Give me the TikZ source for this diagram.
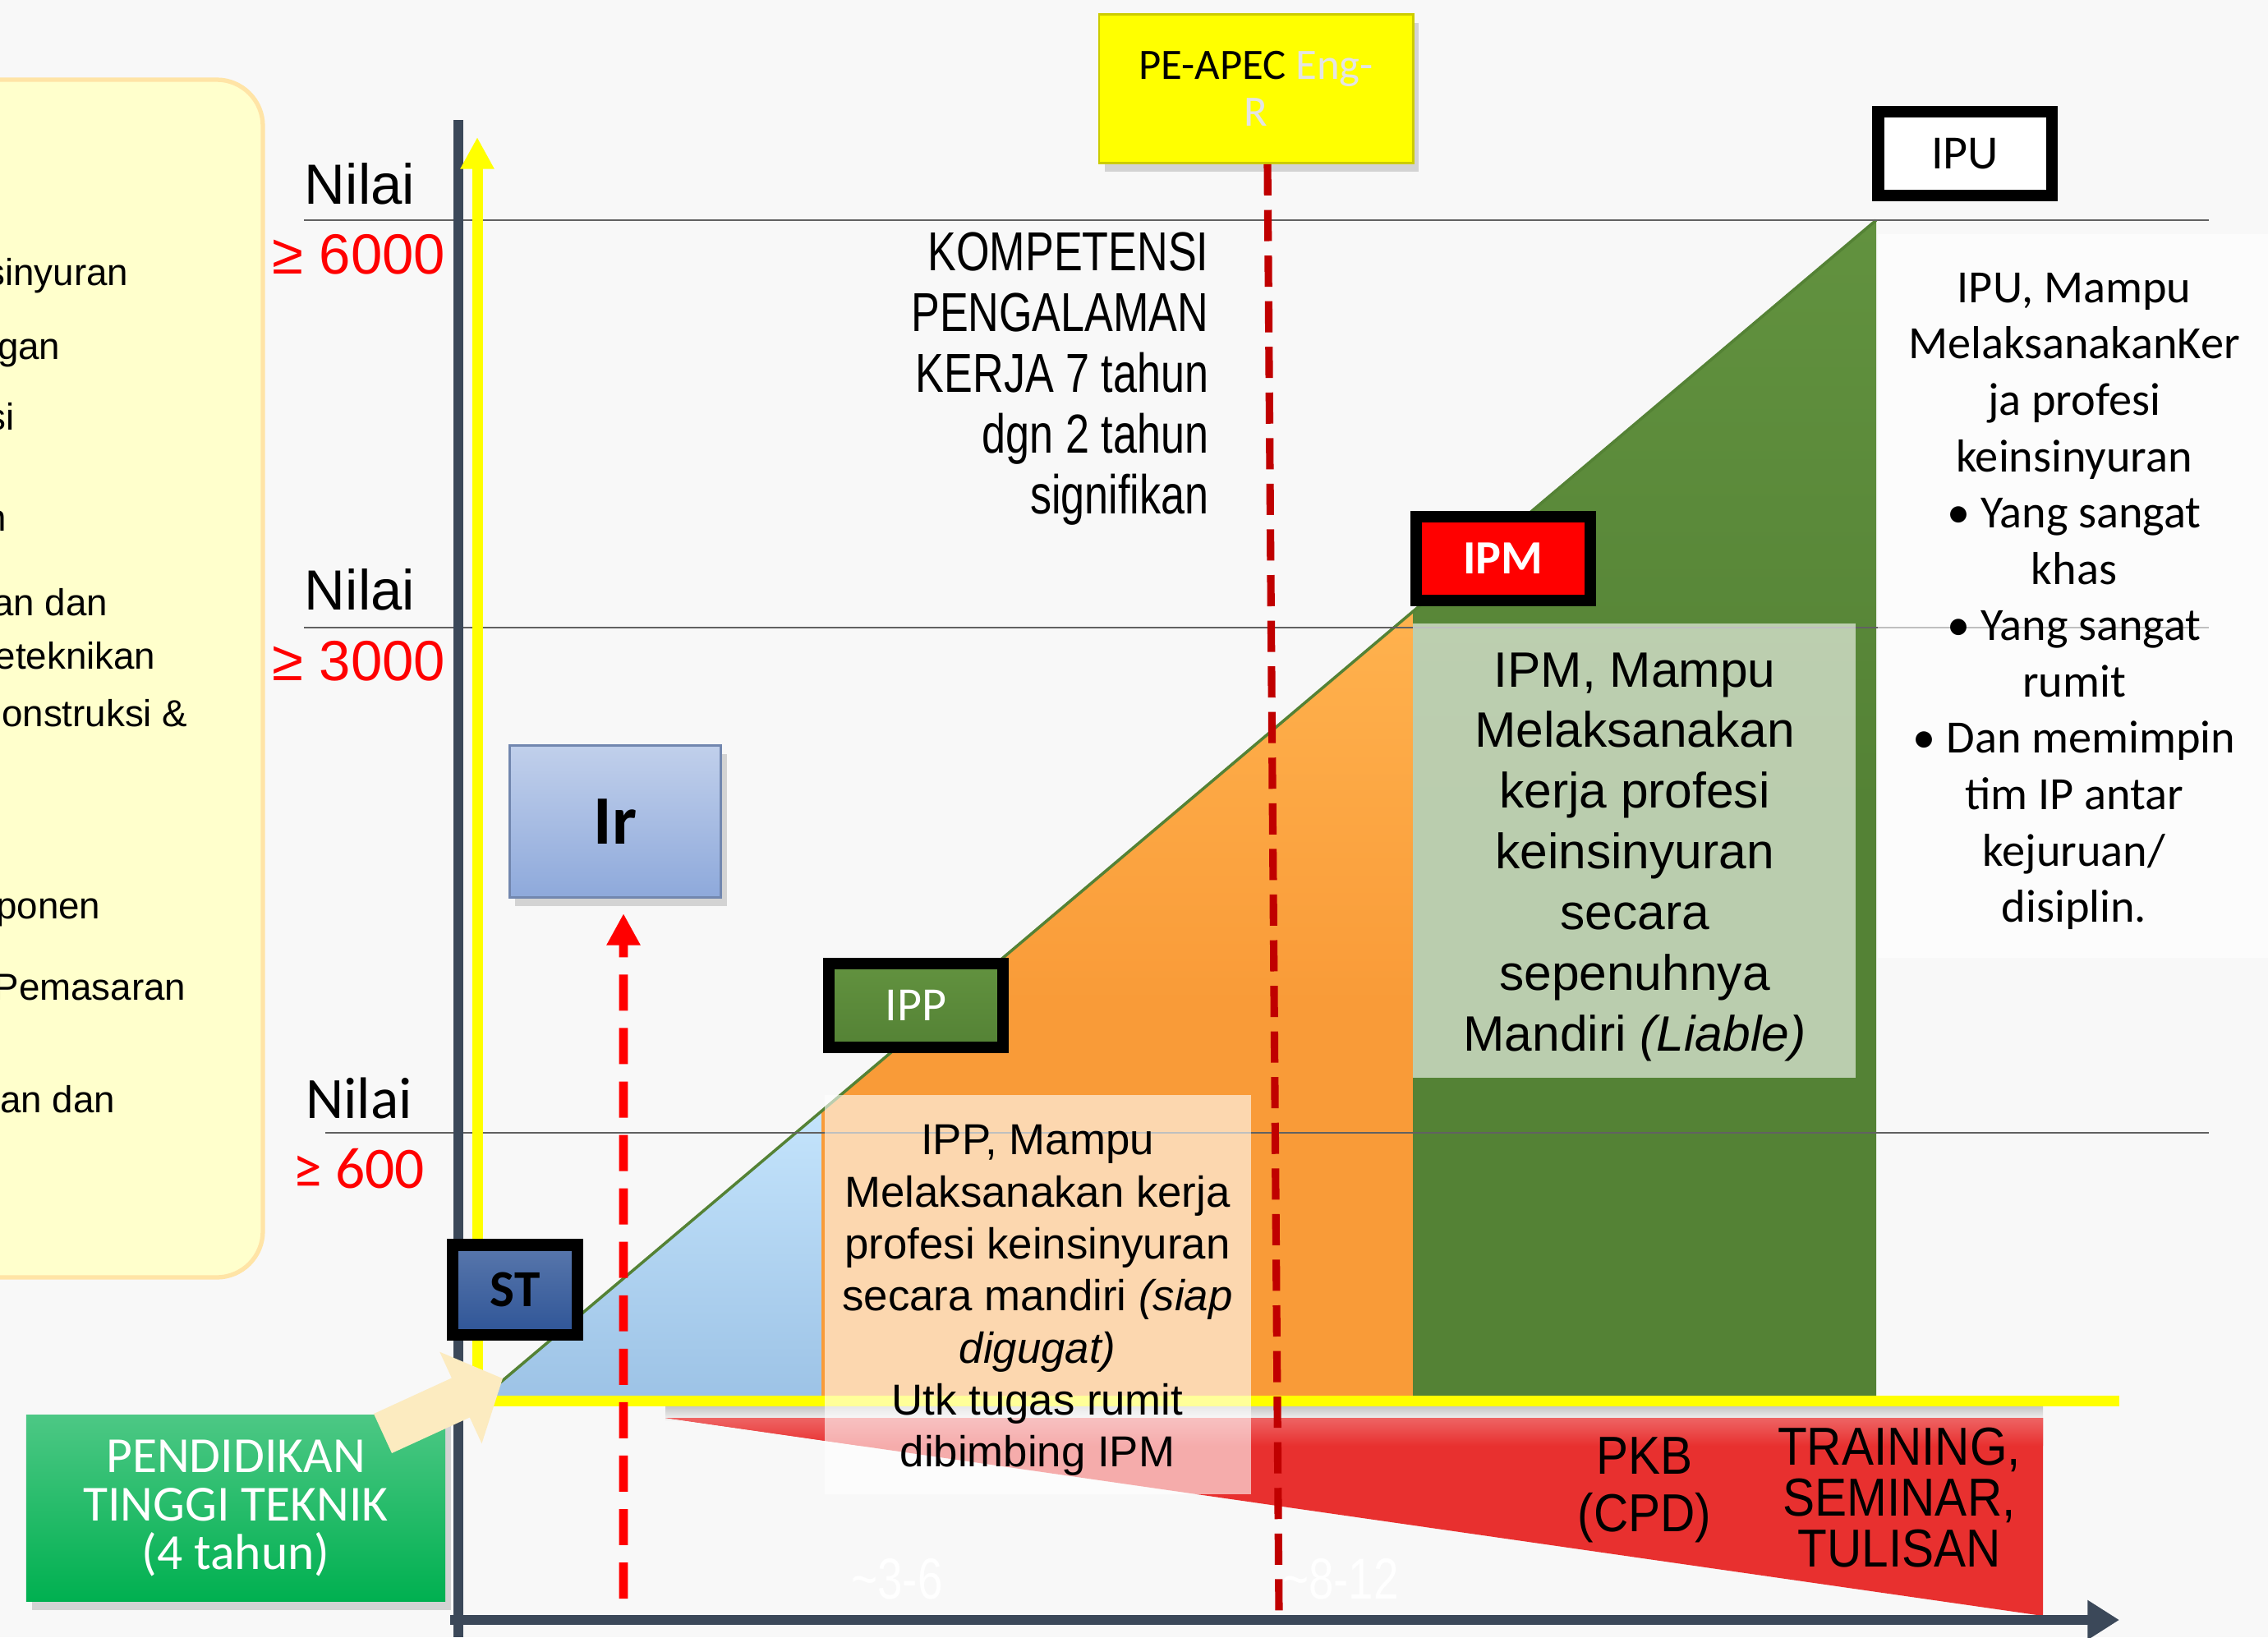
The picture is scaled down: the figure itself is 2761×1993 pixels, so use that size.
\documentclass[tikz,border=0pt]{standalone}
\usepackage{fontspec}
\setmainfont{Liberation Sans}
\newfontfamily\narrowfont[FakeStretch=0.78]{Liberation Sans}
\newfontfamily\semifont[FakeStretch=0.9]{Liberation Sans}
\newfontfamily\calfont{Carlito}
\usepackage{xcolor}
\usetikzlibrary{arrows.meta,shadows}

\begin{document}
\begin{tikzpicture}[x=0.01cm,y=-0.01cm,
  frag/.style={anchor=mid east,inner sep=0pt,font=\fontsize{13}{15}\selectfont},
  nilai/.style={inner sep=0pt,font=\fontsize{19.6}{23}\selectfont},
  nilaical/.style={inner sep=0pt,font=\calfont\fontsize{20.3}{23}\selectfont},
  lvline/.style={draw=black!62,line width=0.7pt},
  tag/.style={draw=black,line width=4pt,inner sep=0pt,minimum width=2.11cm,minimum height=1.02cm,
    font=\calfont\fontsize{16.5}{19}\selectfont},
  bigbox/.style={inner sep=0pt,align=center,drop shadow={opacity=0.3,shadow xshift=2pt,shadow yshift=-3pt}},
  pedashline/.style={draw=pedash,line width=2.6pt,dash pattern=on 10.8pt off 5pt},
  irdash/.style={draw=red,line width=3.1pt,dash pattern=on 12.5pt off 6pt,-{Triangle[length=11pt,width=11pt]}},
]
% Define scheme colours
\definecolor{bg}{HTML}{F8F8F8}
\definecolor{axisdark}{HTML}{3B4859}
\definecolor{leftfill}{HTML}{FFFFCC}
\definecolor{leftedge}{HTML}{FFE4A6}
\definecolor{rampblue}{HTML}{9DC3E6}
\definecolor{rampbluelt}{HTML}{C4E4FC}
\definecolor{ramporange}{HTML}{F99B38}
\definecolor{ramporangelt}{HTML}{FFB24E}
\definecolor{rampgreen}{HTML}{548235}
\definecolor{rampgreenlt}{HTML}{62923F}
\definecolor{pkbred}{HTML}{E8302F}
\definecolor{pkbtop}{HTML}{EE6464}
\definecolor{pedash}{HTML}{C00000}
\definecolor{peyellow}{HTML}{FFFF00}
\definecolor{pegrey}{HTML}{E4E4E4}
\definecolor{stblue}{HTML}{2F5597}
\definecolor{irblue}{HTML}{8EA9DB}
\definecolor{edugreen}{HTML}{00B050}
\definecolor{cream}{HTML}{FCEBC0}

% Background and page size
\fill[bg] (0,0) rectangle (2761,1993);
\useasboundingbox (0,0) rectangle (2761,1993);

% Left note box (cut off at the page edge)
\draw[draw=leftedge,line width=1.5pt,fill=leftfill,rounded corners=16pt] (-60,97) rectangle (320,1555);
\foreach \y/\x/\t [count=\i] in {338/157/sinyuran,428/74/gan,514/18/si,637/9/n,740/132/an dan,
  805/190/eteknikan,875/229/onstruksi \&,1109/123/ponen,1208/227/Pemasaran,1345/141/an dan}
  \node[frag] (frag\i) at (\x,\y) {\t};

% Competence ramp
\shade[top color=rampbluelt,bottom color=rampblue] (590,1699) -- (1000,1353) -- (1000,1699) -- cycle;
\shade[top color=ramporangelt,bottom color=ramporange,middle color=ramporange] (1000,1699) -- (1000,1353) -- (1720,744) -- (1720,1699) -- cycle;
\shade[top color=rampgreenlt,bottom color=rampgreen,middle color=rampgreen] (1720,1699) -- (1720,744) -- (2284,268) -- (2284,1699) -- cycle;
\draw[rampgreen,line width=1pt] (590,1699) -- (2284,268);

% PKB wedge
\shade[top color=black!22,bottom color=bg] (810,1712) rectangle (2487,1730);
\fill[pkbred] (810,1726) -- (2487,1726) -- (2487,1967) -- cycle;
\shade[top color=pkbtop,bottom color=pkbred] (810,1726) -- (2487,1726) -- (2487,1760) -- (1047,1760) -- cycle;

% Score levels
\draw[lvline] (370,268) -- (2689,268);
\draw[lvline] (370,764) -- (2689,764);
\draw[lvline] (396,1379) -- (2689,1379);

% Axes
\draw[axisdark,line width=3.4pt] (558,146) -- (558,1993);
\draw[axisdark,line width=3.4pt,-{Triangle[length=11pt,width=13pt]}] (548,1972) -- (2580,1972);
\draw[peyellow,line width=3.7pt,-{Triangle[length=11pt,width=11pt]}] (581,1712) -- (581,167);
\draw[peyellow,line width=3.7pt] (574,1705) -- (2580,1705);

% Description panels
\fill[white,opacity=0.6] (1004,1333) rectangle (1523,1819);
\fill[white,opacity=0.6] (1720,759) rectangle (2259,1312);
\fill[white,opacity=0.6] (2286,285) rectangle (2761,1166);

\node[inner sep=0pt,align=center,font=\fontsize{15}{18}\selectfont] (ipptxt) at (1263,1583)
  {IPP, Mampu\\Melaksanakan kerja\\profesi keinsinyuran\\secara mandiri \textit{(siap}\\\textit{digugat)}\\Utk tugas rumit\\dibimbing IPM};
\node[inner sep=0pt,align=center,font=\fontsize{17.2}{21}\selectfont] (ipmtxt) at (1990,1043)
  {IPM, Mampu\\Melaksanakan\\kerja profesi\\keinsinyuran\\secara\\sepenuhnya\\Mandiri \textit{(Liable)}};
\node[inner sep=0pt,align=center,font=\calfont\fontsize{16}{19.5}\selectfont] (iputxt) at (2525,732)
  {IPU, Mampu\\MelaksanakanKer\\ja profesi\\keinsinyuran\\• Yang sangat\\khas\\• Yang sangat\\rumit\\• Dan memimpin\\tim IP antar\\kejuruan/\\disiplin.};
\node[inner sep=0pt,anchor=east,align=right,font=\narrowfont\fontsize{19}{21}\selectfont] (komp) at (1472,461)
  {KOMPETENSI\\PENGALAMAN\\KERJA 7 tahun\\dgn 2 tahun\\signifikan};
\node[inner sep=0pt,align=center,font=\semifont\fontsize{18.5}{20}\selectfont] (pkb) at (2002,1814) {PKB\\(CPD)};
\node[inner sep=0pt,align=center,font=\semifont\fontsize{18.5}{17.6}\selectfont] (trn) at (2312,1823) {TRAINING,\\SEMINAR,\\TULISAN};
\node[inner sep=0pt,white,font=\narrowfont\fontsize{20}{22}\selectfont] (yrs1) at (1092,1922) {\textasciitilde3-6};
\node[inner sep=0pt,white,font=\narrowfont\fontsize{20}{22}\selectfont] (yrs2) at (1632,1922) {\textasciitilde8-12};

% Level boxes
\node[bigbox,fill=peyellow,draw=peyellow!80!black,line width=0.8pt,minimum width=3.82cm,minimum height=1.81cm,
  font=\calfont\fontsize{15}{16}\selectfont] (pe) at (1529,108) {PE-APEC \textcolor{pegrey}{Eng-}\\\textcolor{pegrey}{R}};
\coordinate (pebot) at (1557,1963);
\draw[pedashline] ([xshift=0.14cm]pe.south) -- (pebot);

\node[tag,fill=white] (ipu) at (2392,187) {IPU};
\node[tag,fill=red,text=white,font=\calfont\bfseries\fontsize{16.5}{19}\selectfont] (ipm) at (1830,680) {IPM};
\node[tag,top color=rampgreenlt,bottom color=rampgreen,text=white] (ipp) at (1115,1224) {IPP};
\node[tag,top color=stblue!80!white,bottom color=stblue,minimum width=1.52cm,minimum height=1.09cm,
  font=\calfont\bfseries\fontsize{18}{20}\selectfont] (st) at (627,1570) {ST};

\node[bigbox,top color=irblue!55!white,bottom color=irblue,draw=irblue!80!black,line width=0.8pt,
  minimum width=2.57cm,minimum height=1.85cm,font=\calfont\bfseries\fontsize{24}{26}\selectfont] (ir) at (749,1000) {Ir};
\coordinate (irbot) at (759,1946);
\draw[irdash] (irbot) -- ([xshift=0.1cm,yshift=-0.18cm]ir.south);

\node[bigbox,top color=edugreen!70!white,bottom color=edugreen,minimum width=5.10cm,minimum height=2.27cm,
  text=white,font=\calfont\fontsize{17.5}{16.8}\selectfont] (edu) at (287,1836) {PENDIDIKAN\\TINGGI TEKNIK\\(4 tahun)};
\coordinate (edutail) at (466,1745);
\coordinate (edutip) at (612,1678);
\draw[cream,line width=15pt,-{Triangle[length=16pt,width=34pt]}] (edutail) -- (edutip);

% Score labels
\node[nilai] (n1) at (438,224) {Nilai};
\node[nilai,red] (v1) at (437,310) {≥ 6000};
\node[nilai] (n2) at (438,718) {Nilai};
\node[nilai,red] (v2) at (437,805) {≥ 3000};
\node[nilaical] (n3) at (437,1337) {Nilai};
\node[nilaical,red] (v3) at (437,1423) {≥ 600};
\end{tikzpicture}
\end{document}
